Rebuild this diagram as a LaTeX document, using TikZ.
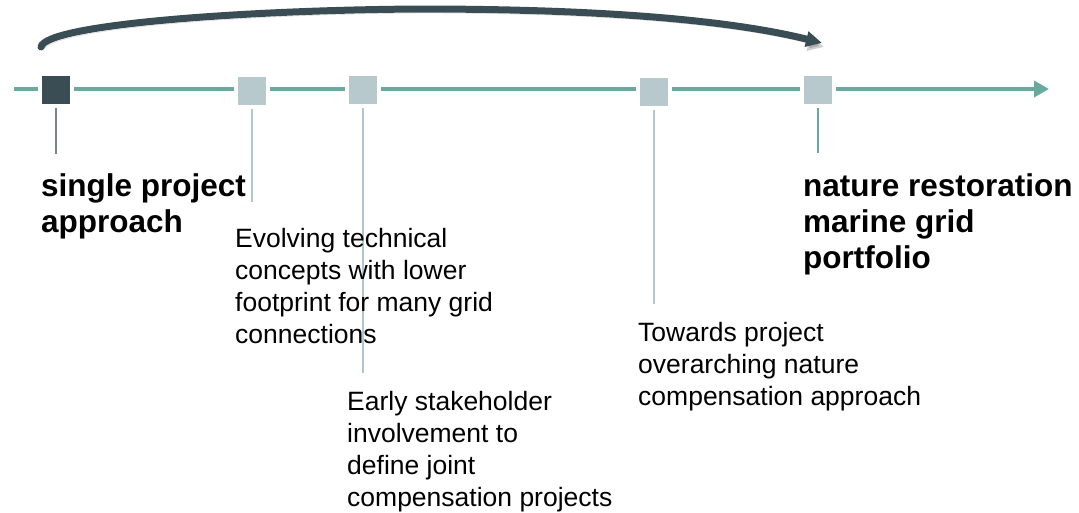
\documentclass[tikz,border=0pt]{standalone}
\usepackage{fontspec}
\setmainfont{Liberation Sans}
\usetikzlibrary{arrows.meta}
\definecolor{tlteal}{RGB}{106,170,158}
\definecolor{tldark}{RGB}{58,77,84}
\definecolor{tllight}{RGB}{184,201,206}
\definecolor{tlstem}{RGB}{178,199,205}
\definecolor{tlgrey}{RGB}{118,134,141}
\tikzset{
  timeline/.style={tlteal, line width=4pt},
  milestone/.style={draw=white, line width=4pt, minimum size=32pt, inner sep=0pt, fill=tllight},
  reached/.style={milestone, fill=tldark},
  stem/.style={tlstem, line width=1.5pt},
  headline/.style={font=\bfseries\fontsize{31.5}{36}\selectfont, align=left, anchor=north west, inner sep=0pt},
  note/.style={font=\fontsize{26.5}{32}\selectfont, align=left, anchor=north west, inner sep=0pt},
  span/.style={tldark, line width=7pt, line cap=round},
}
\begin{document}
\begin{tikzpicture}[x=1pt,y=-1pt]
\useasboundingbox (0,0) rectangle (1079,512);
% arc over the whole programme
\coordinate (arcstart) at (41,47);
\coordinate (arcend) at (822,43);
\draw[span, -{Triangle[length=16pt,width=15pt]},
  preaction={draw, black, opacity=0.18, transform canvas={shift={(2pt,-4pt)}}}]
  (arcstart) .. controls (46,24) and (250,10) .. (420,9)
  .. controls (600,9) and (730,20) .. (arcend);
% time axis
\coordinate (tstart) at (14,89);
\coordinate (tend) at (1049,89);
\draw[timeline, -{Triangle[length=15pt,width=16pt]}] (tstart) -- (tend);
\node[reached] (sq1) at (56,90) {};
\node[milestone] (sq2) at (252,91) {};
\node[milestone] (sq3) at (363,90) {};
\node[milestone] (sq4) at (654,92) {};
\node[milestone] (sq5) at (818,90) {};
% stems
\coordinate (d1) at (56,154);
\coordinate (d2) at (252,202);
\coordinate (d3) at (363,373);
\coordinate (d4) at (654,304);
\coordinate (d5) at (818,153);
\draw[tlgrey, line width=2pt] (sq1) -- (d1);
\draw[stem] (sq2) -- (d2);
\draw[stem] (sq3) -- (d3);
\draw[stem] (sq4) -- (d4);
\draw[tlteal, line width=2pt] (sq5) -- (d5);
% texts
\node[headline] (start) at (41,173) {single project\\approach};
\node[headline] (goal) at (803,173) {nature restoration\\marine grid\\portfolio};
\node[note] (tech) at (235,228) {Evolving technical\\concepts with lower\\footprint for many grid\\connections};
\node[note] (early) at (347,391) {Early stakeholder\\involvement to\\define joint\\compensation projects};
\node[note] (toward) at (638,322) {Towards project\\overarching nature\\compensation approach};
\end{tikzpicture}
\end{document}
